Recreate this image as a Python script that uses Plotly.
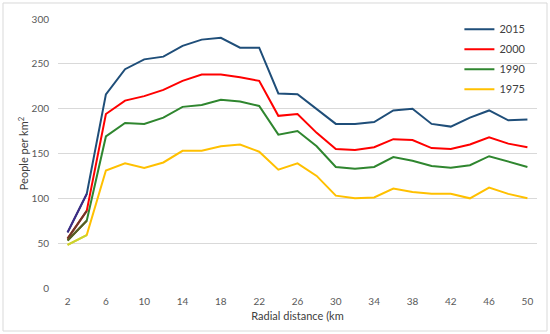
import plotly.graph_objects as go

distance_km = [2, 4, 6, 8, 10, 12, 14, 16, 18, 20, 22, 24, 26, 28, 30, 32, 34, 36, 38, 40, 42, 44, 46, 48, 50]

density_2015 = [62, 105, 216, 244, 255, 258, 270, 277, 279, 268, 268, 217, 216, 199, 183, 183, 185, 198, 200, 183, 180, 190, 198, 187, 188]
density_2000 = [55, 86, 194, 209, 214, 221, 231, 238, 238, 235, 231, 192, 194, 173, 155, 154, 157, 166, 165, 156, 155, 160, 168, 161, 157]
density_1990 = [53, 75, 169, 184, 183, 190, 202, 204, 210, 208, 203, 171, 175, 158, 135, 133, 135, 146, 142, 136, 134, 137, 147, 141, 135]
density_1975 = [48, 59, 131, 139, 134, 140, 153, 153, 158, 160, 152, 132, 139, 125, 103, 100, 101, 111, 107, 105, 105, 100, 112, 105, 100]

series_names = ["2015", "2000", "1990", "1975"]
series_values = [density_2015, density_2000, density_1990, density_1975]
series_colors = ["#1F4E79", "#FF0000", "#2F862F", "#FFC000"]
start_colors = ["#3F2A86", "#6A3A2A", "#5A5A22", "#C8D430"]

x_tick_labels = [2, 6, 10, 14, 18, 22, 26, 30, 34, 38, 42, 46, 50]
y_tick_labels = [0, 50, 100, 150, 200, 250, 300]

fig = go.Figure()
for name, vals, col in zip(series_names, series_values, series_colors):
    fig.add_trace(go.Scatter(x=distance_km, y=vals, mode="lines", name=name, legendgroup=name,
                             line=dict(color=col, width=2)))
# first segment tint seen in the reference
for name, vals, col in zip(series_names, series_values, start_colors):
    fig.add_trace(go.Scatter(x=distance_km[:2], y=vals[:2], mode="lines", showlegend=False,
                             legendgroup=name, line=dict(color=col, width=2), hoverinfo="skip"))

font_family = "Lato, 'Open Sans', sans-serif"

fig.update_layout(
    width=550, height=334,
    margin=dict(l=58, r=13, t=19, b=46),
    paper_bgcolor="white", plot_bgcolor="white",
    font=dict(family=font_family, color="#595959", size=10),
    showlegend=True,
    legend=dict(x=0.838, y=1.016, xanchor="left", yanchor="top",
                font=dict(size=11, color="#404040"), bgcolor="rgba(0,0,0,0)",
                itemwidth=30, tracegroupgap=1, traceorder="grouped"),
    xaxis=dict(range=[1, 51], tickvals=x_tick_labels, ticktext=[str(v) for v in x_tick_labels],
               showgrid=False, zeroline=False, showline=False,
               ticks="outside", ticklen=4, tickcolor="rgba(0,0,0,0)",
               title=dict(text="Radial distance (km", font=dict(size=11, color="#404040"), standoff=6)),
    yaxis=dict(range=[0, 300], tickvals=y_tick_labels, showgrid=True, gridcolor="#D9D9D9", gridwidth=1,
               zeroline=False, showline=False,
               ticks="outside", ticklen=6, tickcolor="rgba(0,0,0,0)",
               title=dict(text="People per km<sup>2</sup>", font=dict(size=11, color="#404040"), standoff=0)),
    shapes=[dict(type="rect", xref="paper", yref="paper",
                 x0=-0.1148, x1=1.0209, y0=-0.1599, y1=1.0595,
                 line=dict(color="#D9D9D9", width=1), fillcolor="rgba(0,0,0,0)", layer="below")],
)

fig.write_html("out.html", config={"displayModeBar": False},
               post_script="document.body.style.margin='0px';document.body.style.overflow='hidden';")
